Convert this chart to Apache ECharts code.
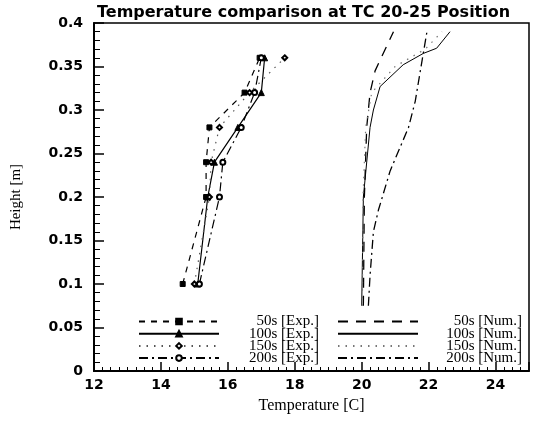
<!DOCTYPE html>
<html>
<head>
<meta charset="utf-8">
<script src="https://cdn.jsdelivr.net/npm/echarts@6/dist/echarts.min.js"></script>
<style>
  html, body { margin: 0; padding: 0; background: #fff; }
  #chart { width: 534px; height: 421px; }
</style>
</head>
<body>
<div id="chart"></div>
<script>
// Measured heights of the thermocouples [m]
const expHeights = [0.1, 0.2, 0.24, 0.28, 0.32, 0.36];
// Measured temperatures [C] at those heights
const exp50  = [14.65, 15.35, 15.35, 15.45, 16.5, 16.95];
const exp100 = [15.1, 15.4, 15.6, 16.3, 17.0, 17.1];
const exp150 = [15.0, 15.45, 15.5, 15.75, 16.65, 17.7];
const exp200 = [15.15, 15.75, 15.85, 16.4, 16.8, 17.0];

// Simulated profiles: heights [m] and temperatures [C]
const num50H  = [0.075, 0.2, 0.28, 0.32, 0.345, 0.39];
const num50T  = [20.05, 20.08, 20.15, 20.25, 20.4, 20.95];
const num100H = [0.075, 0.2, 0.28, 0.3, 0.327, 0.352, 0.365, 0.371, 0.39];
const num100T = [20.0, 20.05, 20.25, 20.35, 20.55, 21.24, 21.84, 22.24, 22.64];
const num150H = [0.075, 0.2, 0.28, 0.32, 0.35, 0.37, 0.39];
const num150T = [20.02, 20.04, 20.12, 20.3, 21.0, 21.9, 22.4];
const num200H = [0.075, 0.11, 0.16, 0.185, 0.23, 0.28, 0.31, 0.365, 0.39];
const num200T = [20.2, 20.25, 20.35, 20.5, 20.85, 21.4, 21.6, 21.84, 21.95];

// Axis ranges and labels
const xMin = 12, xMax = 25, xStep = 2;
const yMin = 0, yMax = 0.4, yStep = 0.05;
const titleText = 'Temperature comparison at TC 20-25 Position';
const xName = 'Temperature [C]';
const yName = 'Height [m]';
const expNames = ['50s [Exp.]', '100s [Exp.]', '150s [Exp.]', '200s [Exp.]'];
const numNames = ['50s [Num.]', '100s [Num.]', '150s [Num.]', '200s [Num.]'];

const pairs = (xs, ys) => xs.map((x, i) => [x, ys[i]]);

const serif = 'Liberation Serif';
const sans = 'DejaVu Sans';

function expSeries(name, temps, symbol, dash, color) {
  return {
    name, type: 'line', data: pairs(temps, expHeights),
    symbol, symbolSize: symbol === 'triangle' ? 6 : 5,
    showSymbol: true,
    lineStyle: { color, width: 1.2, type: dash },
    itemStyle: { color: '#000', borderColor: '#000', borderWidth: 1 },
    animation: false, z: 3
  };
}
function numSeries(name, temps, hs, dash, color, width) {
  return {
    name, type: 'line', data: pairs(temps, hs),
    symbol: 'none', showSymbol: false,
    lineStyle: { color, width, type: dash },
    itemStyle: { color },
    animation: false, z: 2
  };
}

// Two-column legend: line sample on the left, right-aligned caption
function legendBlock(names, left, boxWidth, hideSymbol) {
  return {
    orient: 'vertical', left, top: 314, padding: 0,
    itemWidth: 80, itemHeight: 7, itemGap: -2.8, itemTextGap: 4,
    data: names.map(n => hideSymbol ? { name: n, itemStyle: { opacity: 0 } } : { name: n }),
    textStyle: {
      fontFamily: serif, fontSize: 15, color: '#000', lineHeight: 12,
      rich: { t: { width: boxWidth, align: 'right', fontFamily: serif, fontSize: 15, color: '#000', lineHeight: 12 } }
    },
    formatter: n => '{t|' + n + '}'
  };
}

const option = {
  backgroundColor: '#fff',
  title: {
    text: titleText, left: 97, top: 5, padding: 0,
    textStyle: { fontFamily: sans, fontWeight: 'bold', fontSize: 16, color: '#000' }
  },
  grid: { left: 94, right: 5, top: 23, bottom: 50, show: true, borderColor: '#000', borderWidth: 1.5, backgroundColor: 'transparent' },
  legend: [
    legendBlock(expNames, 138, 95, false),
    legendBlock(numNames, 337, 99, true)
  ],
  xAxis: {
    type: 'value', min: xMin, max: xMax, interval: xStep,
    name: xName, nameLocation: 'middle', nameGap: 27,
    nameTextStyle: { fontFamily: serif, fontSize: 16, color: '#000' },
    axisLine: { show: true, onZero: false, lineStyle: { color: '#000', width: 2 } },
    axisTick: { show: true, inside: true, length: 9, lineStyle: { color: '#000', width: 1.5 } },
    minorTick: { show: true, splitNumber: 8, length: 4, lineStyle: { color: '#000', width: 1 } },
    splitLine: { show: false },
    axisLabel: {
      margin: 7, fontFamily: sans, fontWeight: 'bold', fontSize: 14, color: '#000',
      formatter: v => (v > xMax - 0.5 ? '' : String(v))
    }
  },
  yAxis: {
    type: 'value', min: yMin, max: yMax, interval: yStep,
    name: yName, nameLocation: 'middle', nameGap: 70, nameRotate: 90,
    nameTextStyle: { fontFamily: serif, fontSize: 15, color: '#000' },
    axisLine: { show: true, onZero: false, lineStyle: { color: '#000', width: 2 } },
    axisTick: { show: true, inside: true, length: 10, lineStyle: { color: '#000', width: 1.5 } },
    minorTick: { show: true, splitNumber: 5, length: 6, lineStyle: { color: '#000', width: 1 } },
    splitLine: { show: false },
    axisLabel: {
      margin: 11, fontFamily: sans, fontWeight: 'bold', fontSize: 14, color: '#000',
      formatter: v => String(Math.round(v * 100) / 100)
    }
  },
  series: [
    expSeries(expNames[0], exp50, 'rect', [6, 6], '#000'),
    expSeries(expNames[1], exp100, 'triangle', 'solid', '#000'),
    expSeries(expNames[2], exp150, 'emptyDiamond', [1.5, 6], '#555'),
    expSeries(expNames[3], exp200, 'emptyCircle', [9, 4, 2, 4], '#000'),
    numSeries(numNames[0], num50T, num50H, [10, 8], '#000', 1.3),
    numSeries(numNames[1], num100T, num100H, 'solid', '#000', 1),
    numSeries(numNames[2], num150T, num150H, [1.5, 6], '#777', 1.2),
    numSeries(numNames[3], num200T, num200H, [9, 4, 2, 4], '#000', 1.3)
  ]
};

const chart = echarts.init(document.getElementById('chart'), null, { renderer: 'canvas' });
chart.setOption(option);
</script>
</body>
</html>
